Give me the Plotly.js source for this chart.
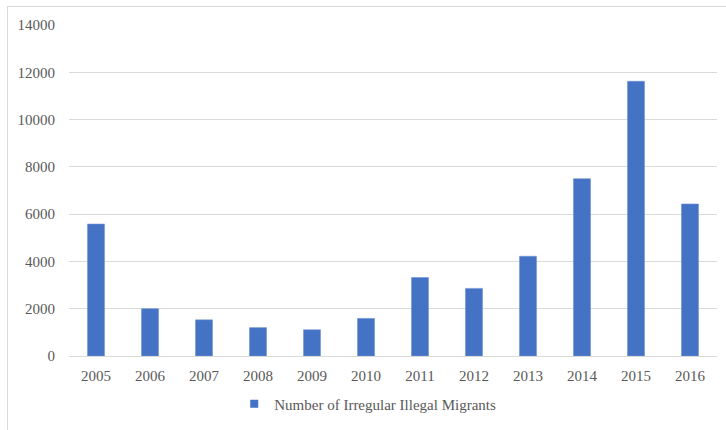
<!DOCTYPE html>
<html>
<head>
<meta charset="utf-8">
<script src="https://cdn.plot.ly/plotly-3.0.1.min.js"></script>
<style>
  html, body { margin: 0; padding: 0; background: #ffffff; }
  #wrap { position: relative; width: 726px; height: 430px; overflow: hidden; }
  #chart { position: absolute; left: 0; top: 0; width: 726px; height: 430px; }
  #frame { position: absolute; left: 7px; top: 6px; width: 800px; height: 500px;
           border-top: 1px solid #d9d9d9; border-left: 1px solid #d9d9d9; pointer-events: none; }
</style>
</head>
<body>
<div id="wrap">
  <div id="chart"></div>
  <div id="frame"></div>
</div>
<script>
const years = ["2005","2006","2007","2008","2009","2010","2011","2012","2013","2014","2015","2016"];
const migrants = [5580, 2000, 1530, 1200, 1110, 1590, 3320, 2860, 4220, 7500, 11620, 6430];
const seriesName = "Number of Irregular Illegal Migrants";
const yTicks = [0, 2000, 4000, 6000, 8000, 10000, 12000, 14000];

const barColor = "#4472C4";
const fontFam = "Times New Roman, Liberation Serif, DejaVu Serif, serif";

const traces = [
  {
    type: "bar",
    x: years,
    y: migrants,
    name: seriesName,
    showlegend: false,
    marker: { color: barColor, line: { color: "#6f93d3", width: 0.6 } },
    hoverinfo: "x+y"
  },
  {
    type: "scatter",
    mode: "markers",
    x: [null],
    y: [null],
    name: seriesName,
    showlegend: true,
    marker: { symbol: "square", size: 8, color: barColor }
  }
];

const layout = {
  width: 726,
  height: 430,
  margin: { l: 69, r: 9, t: 25, b: 72, pad: 0 },
  paper_bgcolor: "#ffffff",
  plot_bgcolor: "#ffffff",
  font: { family: fontFam, size: 15, color: "#595959" },
  bargap: 0.685,
  showlegend: true,
  xaxis: {
    type: "category",
    showgrid: false,
    showline: true,
    linecolor: "#d9d9d9",
    linewidth: 1,
    ticks: "",
    tickfont: { family: fontFam, size: 15, color: "#595959" },
    ticklabelstandoff: 6
  },
  yaxis: {
    range: [0, 14000],
    tickvals: yTicks,
    ticktext: yTicks.map(String),
    showgrid: true,
    gridcolor: "#d9d9d9",
    gridwidth: 1,
    zeroline: false,
    showline: false,
    ticks: "",
    tickfont: { family: fontFam, size: 15, color: "#595959" },
    ticklabelstandoff: 13
  },
  legend: {
    orientation: "h",
    x: 0.255,
    xanchor: "left",
    y: -0.145,
    yanchor: "middle",
    font: { family: fontFam, size: 15, color: "#595959" },
    bgcolor: "rgba(0,0,0,0)"
  }
};

Plotly.newPlot("chart", traces, layout, { displayModeBar: false, staticPlot: true });
</script>
</body>
</html>
